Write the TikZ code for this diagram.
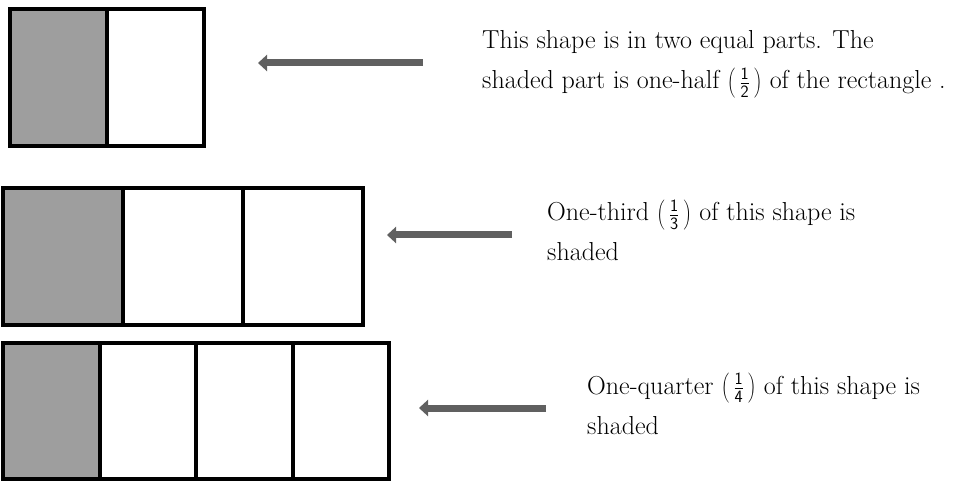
\documentclass[tikz,border=0pt]{standalone}
\usetikzlibrary{arrows.meta,positioning}

\definecolor{shadegray}{HTML}{9E9E9E}
\definecolor{arrowgray}{HTML}{606060}
\newcommand{\fr}[2]{$\left(\,\frac{\mathsf{#1}}{\mathsf{#2}}\,\right)$}

\begin{document}
\begin{tikzpicture}[
        x=1pt, y=-1pt,
        node distance=0pt,
        piece/.style={
            draw=black, line width=4pt, rectangle, outer sep=0pt,
            inner sep=0pt, fill=white
        },
        note/.style={
            inner sep=0pt, anchor=base west, align=left,
            font=\fontsize{26}{40}\selectfont
        },
        fatarrow/.style={
            draw=arrowgray, line width=7pt,
            -{Triangle[width=16pt,length=9pt]}
        }
    ]
    \useasboundingbox (0,0) rectangle (964,481);

    % halves
    \node[piece, fill=shadegray, minimum width=97pt, minimum height=137pt] (h1) at (58.5,77.5) {};
    \node[piece, minimum width=97pt, minimum height=137pt] (h2) [right=of h1] {};

    % thirds
    \node[piece, fill=shadegray, minimum width=120pt, minimum height=137pt] (t1) at (63,256.5) {};
    \node[piece, minimum width=120pt, minimum height=137pt] (t2) [right=of t1] {};
    \node[piece, minimum width=120pt, minimum height=137pt] (t3) [right=of t2] {};

    % quarters
    \node[piece, fill=shadegray, minimum width=96.5pt, minimum height=136pt] (q1) at (51.25,411) {};
    \node[piece, minimum width=96.5pt, minimum height=136pt] (q2) [right=of q1] {};
    \node[piece, minimum width=96.5pt, minimum height=136pt] (q3) [right=of q2] {};
    \node[piece, minimum width=96.5pt, minimum height=136pt] (q4) [right=of q3] {};

    \node[note] (nh) at (482,89) {
        This shape is in two equal parts. The\\
        shaded part is one-half \fr{1}{2} of the rectangle .
    };
    \node[note] (nt) at (547,261) {
        One-third \fr{1}{3} of this shape is\\
        shaded
    };
    \node[note] (nq) at (587,434) {
        One-quarter \fr{1}{4} of this shape is\\
        shaded
    };

    \coordinate (ah0) at (423,63);  \coordinate (ah1) at (258,63);
    \coordinate (at0) at (512,235); \coordinate (at1) at (387,235);
    \coordinate (aq0) at (546,408); \coordinate (aq1) at (419,408);
    \draw[fatarrow] (ah0) -- (ah1);
    \draw[fatarrow] (at0) -- (at1);
    \draw[fatarrow] (aq0) -- (aq1);
\end{tikzpicture}
\end{document}
